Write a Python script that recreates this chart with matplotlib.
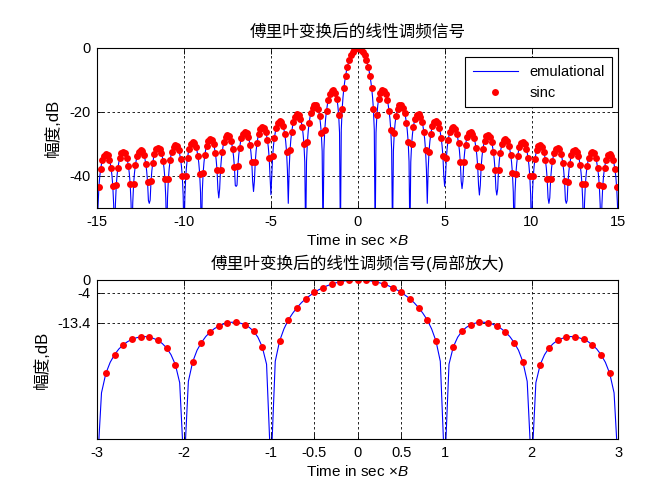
import numpy as np
import matplotlib
matplotlib.use('Agg')
import matplotlib.pyplot as plt

plt.rcParams['font.family'] = ['Liberation Sans', 'Noto Sans CJK SC', 'DejaVu Sans']
plt.rcParams['axes.unicode_minus'] = False
plt.rcParams['mathtext.fontset'] = 'custom'
plt.rcParams['mathtext.it'] = 'Liberation Sans:italic'
plt.rcParams['mathtext.rm'] = 'Liberation Sans'

# ---------------- text ----------------
title_top = '傅里叶变换后的线性调频信号'
title_bottom = '傅里叶变换后的线性调频信号(局部放大)'
xlabel_text = 'Time in sec ×$\\mathit{B}$'
ylabel_text = '幅度,dB'
legend_labels = ['emulational', 'sinc']

top_xticks = [-15, -10, -5, 0, 5, 10, 15]
top_yticks = [-40, -20, 0]
bottom_xticks = [-3, -2, -1, -0.5, 0, 0.5, 1, 2, 3]
bottom_xticklabels = ['-3', '-2', '-1', '-0.5', '0', '0.5', '1', '2', '3']
bottom_yticks = [-13.4, -4, 0]
bottom_yticklabels = ['-13.4', '-4', '0']

# ---------------- data ----------------
# time axis of the simulated (emulational) spectrum, step 0.05 from -15 to 15
emul_t = np.arange(-300, 301) * 0.05
emul_db = np.array([
    -60.0,
    -49.6, -43.6, -40.2, -38.0, -36.3, -35.1, -34.3, -33.7, -33.3, -33.2, -33.2, -33.5, -34.1, -34.9, -36.0, -37.6, -39.8, -43.1, -49.0,
    -60.0,
    -49.0, -43.0, -39.6, -37.4, -35.7, -34.5, -33.6, -33.0, -32.7, -32.5, -32.6, -32.9, -33.4, -34.3, -35.4, -37.0, -39.2, -42.5, -48.4,
    -60.0,
    -48.3, -42.4, -39.0, -36.7, -35.1, -33.9, -33.0, -32.4, -32.0, -31.9, -31.9, -32.2, -32.8, -33.6, -34.7, -36.3, -38.5, -41.8, -47.7,
    -48.6,
    -47.6, -41.7, -38.3, -36.0, -34.3, -33.1, -32.3, -31.7, -31.3, -31.2, -31.2, -31.5, -32.0, -32.8, -34.0, -35.5, -37.7, -41.0, -46.9,
    -60.0,
    -46.9, -40.9, -37.5, -35.2, -33.6, -32.4, -31.5, -30.9, -30.5, -30.4, -30.4, -30.7, -31.2, -32.0, -33.2, -34.7, -36.9, -40.2, -46.1,
    -60.0,
    -46.0, -40.1, -36.7, -34.4, -32.7, -31.5, -30.6, -30.0, -29.6, -29.5, -29.6, -29.8, -30.3, -31.1, -32.3, -33.8, -36.0, -39.3, -45.2,
    -60.0,
    -45.1, -39.1, -35.7, -33.4, -31.8, -30.6, -29.7, -29.1, -28.7, -28.5, -28.6, -28.9, -29.4, -30.2, -31.3, -32.8, -35.0, -38.3, -44.2,
    -46.9,
    -44.1, -38.1, -34.7, -32.4, -30.7, -29.5, -28.6, -28.0, -27.6, -27.4, -27.5, -27.7, -28.3, -29.0, -30.1, -31.7, -33.9, -37.2, -43.0,
    -43.3,
    -42.9, -36.9, -33.5, -31.2, -29.5, -28.3, -27.4, -26.8, -26.4, -26.2, -26.2, -26.5, -27.0, -27.8, -28.9, -30.4, -32.6, -35.8, -41.7,
    -44.9,
    -41.6, -35.6, -32.1, -29.8, -28.1, -26.9, -26.0, -25.3, -24.9, -24.8, -24.8, -25.0, -25.5, -26.3, -27.4, -28.9, -31.0, -34.3, -40.1,
    -45.9,
    -40.0, -33.9, -30.5, -28.2, -26.5, -25.2, -24.3, -23.6, -23.2, -23.0, -23.0, -23.3, -23.7, -24.4, -25.5, -27.0, -29.2, -32.4, -38.2,
    -48.6,
    -38.0, -32.0, -28.5, -26.2, -24.4, -23.1, -22.2, -21.5, -21.1, -20.8, -20.8, -21.0, -21.4, -22.1, -23.2, -24.7, -26.8, -30.0, -35.7,
    -60.0,
    -35.5, -29.4, -25.9, -23.5, -21.7, -20.4, -19.4, -18.7, -18.2, -17.9, -17.8, -18.0, -18.4, -19.0, -20.0, -21.4, -23.5, -26.6, -32.3,
    -60.0,
    -31.9, -25.7, -22.1, -19.7, -17.8, -16.4, -15.3, -14.5, -13.9, -13.5, -13.3, -13.3, -13.6, -14.1, -14.9, -16.1, -18.0, -21.0, -26.5,
    -60.0,
    -25.6, -19.2, -15.4, -12.6, -10.5, -8.7, -7.2, -5.9, -4.9, -3.9, -3.1, -2.4, -1.8, -1.3, -0.9, -0.6, -0.3, -0.1, -0.0,
    0.0,
    -0.0, -0.1, -0.3, -0.6, -0.9, -1.3, -1.8, -2.4, -3.1, -3.9, -4.9, -5.9, -7.2, -8.7, -10.5, -12.6, -15.4, -19.2, -25.6,
    -60.0,
    -26.5, -21.0, -18.0, -16.1, -14.9, -14.1, -13.6, -13.3, -13.3, -13.5, -13.9, -14.5, -15.3, -16.4, -17.8, -19.7, -22.1, -25.7, -31.9,
    -60.0,
    -32.3, -26.6, -23.5, -21.4, -20.0, -19.0, -18.4, -18.0, -17.8, -17.9, -18.2, -18.7, -19.4, -20.4, -21.7, -23.5, -25.9, -29.4, -35.5,
    -60.0,
    -35.7, -30.0, -26.8, -24.7, -23.2, -22.1, -21.4, -21.0, -20.8, -20.8, -21.1, -21.5, -22.2, -23.1, -24.4, -26.2, -28.5, -32.0, -38.0,
    -48.6,
    -38.2, -32.4, -29.2, -27.0, -25.5, -24.4, -23.7, -23.3, -23.0, -23.0, -23.2, -23.6, -24.3, -25.2, -26.5, -28.2, -30.5, -33.9, -40.0,
    -43.3,
    -40.1, -34.3, -31.0, -28.9, -27.4, -26.3, -25.5, -25.0, -24.8, -24.8, -24.9, -25.3, -26.0, -26.9, -28.1, -29.8, -32.1, -35.6, -41.6,
    -44.0,
    -41.7, -35.8, -32.6, -30.4, -28.9, -27.8, -27.0, -26.5, -26.2, -26.2, -26.4, -26.8, -27.4, -28.3, -29.5, -31.2, -33.5, -36.9, -42.9,
    -46.0,
    -43.0, -37.2, -33.9, -31.7, -30.1, -29.0, -28.3, -27.7, -27.5, -27.4, -27.6, -28.0, -28.6, -29.5, -30.7, -32.4, -34.7, -38.1, -44.1,
    -46.0,
    -44.2, -38.3, -35.0, -32.8, -31.3, -30.2, -29.4, -28.9, -28.6, -28.5, -28.7, -29.1, -29.7, -30.6, -31.8, -33.4, -35.7, -39.1, -45.1,
    -60.0,
    -45.2, -39.3, -36.0, -33.8, -32.3, -31.1, -30.3, -29.8, -29.6, -29.5, -29.6, -30.0, -30.6, -31.5, -32.7, -34.4, -36.7, -40.1, -46.0,
    -60.0,
    -46.1, -40.2, -36.9, -34.7, -33.2, -32.0, -31.2, -30.7, -30.4, -30.4, -30.5, -30.9, -31.5, -32.4, -33.6, -35.2, -37.5, -40.9, -46.9,
    -48.6,
    -46.9, -41.0, -37.7, -35.5, -34.0, -32.8, -32.0, -31.5, -31.2, -31.2, -31.3, -31.7, -32.3, -33.1, -34.3, -36.0, -38.3, -41.7, -47.6,
    -48.6,
    -47.7, -41.8, -38.5, -36.3, -34.7, -33.6, -32.8, -32.2, -31.9, -31.9, -32.0, -32.4, -33.0, -33.9, -35.1, -36.7, -39.0, -42.4, -48.3,
    -60.0,
    -48.4, -42.5, -39.2, -37.0, -35.4, -34.3, -33.4, -32.9, -32.6, -32.5, -32.7, -33.0, -33.6, -34.5, -35.7, -37.4, -39.6, -43.0, -49.0,
    -60.0,
    -49.0, -43.1, -39.8, -37.6, -36.0, -34.9, -34.1, -33.5, -33.2, -33.2, -33.3, -33.7, -34.3, -35.1, -36.3, -38.0, -40.2, -43.6, -49.6,
    -60.0,
])

# ideal sinc samples, step 0.1 from -15 to 15 (nulls at integers are not drawn)
sinc_t = np.arange(-150, 151) * 0.1
sinc_db = np.array([
    None, -43.6, -38.0, -35.1, -33.7, -33.2, -33.5, -34.9, -37.6, -43.1,
    None, -43.0, -37.4, -34.5, -33.0, -32.5, -32.9, -34.3, -37.0, -42.5,
    None, -42.4, -36.7, -33.9, -32.4, -31.9, -32.2, -33.6, -36.3, -41.8,
    None, -41.7, -36.0, -33.1, -31.7, -31.2, -31.5, -32.8, -35.5, -41.0,
    None, -40.9, -35.2, -32.4, -30.9, -30.4, -30.7, -32.0, -34.7, -40.2,
    None, -40.1, -34.4, -31.5, -30.0, -29.5, -29.8, -31.1, -33.8, -39.3,
    None, -39.1, -33.4, -30.6, -29.1, -28.5, -28.9, -30.2, -32.8, -38.3,
    None, -38.1, -32.4, -29.5, -28.0, -27.4, -27.7, -29.0, -31.7, -37.2,
    None, -36.9, -31.2, -28.3, -26.8, -26.2, -26.5, -27.8, -30.4, -35.8,
    None, -35.6, -29.8, -26.9, -25.3, -24.8, -25.0, -26.3, -28.9, -34.3,
    None, -33.9, -28.2, -25.2, -23.6, -23.0, -23.3, -24.4, -27.0, -32.4,
    None, -32.0, -26.2, -23.1, -21.5, -20.8, -21.0, -22.1, -24.7, -30.0,
    None, -29.4, -23.5, -20.4, -18.7, -17.9, -18.0, -19.0, -21.4, -26.6,
    None, -25.7, -19.7, -16.4, -14.5, -13.5, -13.3, -14.1, -16.1, -21.0,
    None, -19.2, -12.6, -8.7, -5.9, -3.9, -2.4, -1.3, -0.6, -0.1,
    0.0,
    -0.1, -0.6, -1.3, -2.4, -3.9, -5.9, -8.7, -12.6, -19.2, None,
    -21.0, -16.1, -14.1, -13.3, -13.5, -14.5, -16.4, -19.7, -25.7, None,
    -26.6, -21.4, -19.0, -18.0, -17.9, -18.7, -20.4, -23.5, -29.4, None,
    -30.0, -24.7, -22.1, -21.0, -20.8, -21.5, -23.1, -26.2, -32.0, None,
    -32.4, -27.0, -24.4, -23.3, -23.0, -23.6, -25.2, -28.2, -33.9, None,
    -34.3, -28.9, -26.3, -25.0, -24.8, -25.3, -26.9, -29.8, -35.6, None,
    -35.8, -30.4, -27.8, -26.5, -26.2, -26.8, -28.3, -31.2, -36.9, None,
    -37.2, -31.7, -29.0, -27.7, -27.4, -28.0, -29.5, -32.4, -38.1, None,
    -38.3, -32.8, -30.2, -28.9, -28.5, -29.1, -30.6, -33.4, -39.1, None,
    -39.3, -33.8, -31.1, -29.8, -29.5, -30.0, -31.5, -34.4, -40.1, None,
    -40.2, -34.7, -32.0, -30.7, -30.4, -30.9, -32.4, -35.2, -40.9, None,
    -41.0, -35.5, -32.8, -31.5, -31.2, -31.7, -33.1, -36.0, -41.7, None,
    -41.8, -36.3, -33.6, -32.2, -31.9, -32.4, -33.9, -36.7, -42.4, None,
    -42.5, -37.0, -34.3, -32.9, -32.5, -33.0, -34.5, -37.4, -43.0, None,
    -43.1, -37.6, -34.9, -33.5, -33.2, -33.7, -35.1, -38.0, -43.6, None,
], dtype=float)

# ---------------- figure ----------------
fig = plt.figure(figsize=(6.7, 4.96), dpi=100)
ax1 = fig.add_axes([0.145, 0.581, 0.778, 0.3226])
ax2 = fig.add_axes([0.145, 0.115, 0.778, 0.3206])

for ax in (ax1, ax2):
    ax.plot(emul_t, emul_db, color='#0000ff', lw=0.8, label=legend_labels[0])
    ax.plot(sinc_t, sinc_db, linestyle='none', marker='o', ms=5.0,
            color='#ff0000', mec='#ff0000', mew=0, label=legend_labels[1])
    ax.grid(True, color='black', linestyle=(0, (3, 3)), linewidth=0.6)
    ax.set_axisbelow(True)
    ax.tick_params(direction='in', top=True, right=True, length=4, width=0.6,
                   labelsize=10.5, pad=5)
    for s in ax.spines.values():
        s.set_linewidth(0.8)
        s.set_color('black')
    ax.set_xlabel(xlabel_text, fontsize=11, labelpad=3)

ax1.set_xlim(-15, 15)
ax1.set_ylim(-50, 0)
ax1.set_xticks(top_xticks)
ax1.set_yticks(top_yticks)
ax1.set_title(title_top, fontsize=12, pad=8)
ax1.set_ylabel(ylabel_text, fontsize=12)
ax1.yaxis.set_label_coords(-0.07, 0.5)

leg = ax1.legend(loc='upper right', bbox_to_anchor=(0.988, 0.94), borderaxespad=0,
                 fancybox=False, edgecolor='black', framealpha=1, fontsize=10.5,
                 handlelength=3.1, numpoints=1, borderpad=0.5, labelspacing=0.5)
leg.get_frame().set_linewidth(0.8)

ax2.set_xlim(-3, 3)
ax2.set_ylim(-50, 0)
ax2.set_xticks(bottom_xticks)
ax2.set_xticklabels(bottom_xticklabels)
ax2.set_yticks(bottom_yticks)
ax2.set_yticklabels(bottom_yticklabels)
ax2.set_title(title_bottom, fontsize=12, pad=8)
ax2.set_ylabel(ylabel_text, fontsize=12)
ax2.yaxis.set_label_coords(-0.09, 0.5)

fig.savefig('out.png', dpi=100, facecolor='white')
